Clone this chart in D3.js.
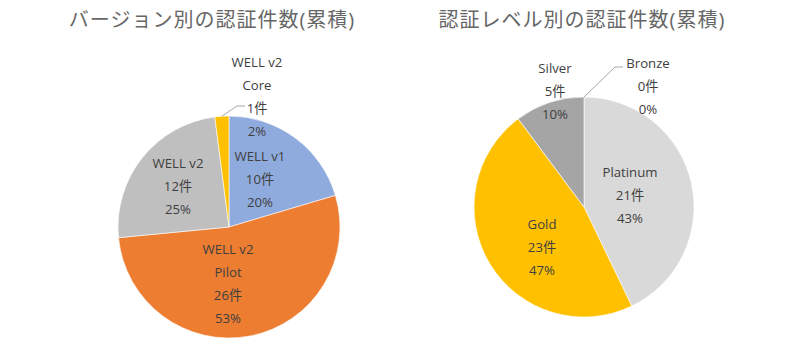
<!DOCTYPE html>
<html><head><meta charset="utf-8">
<script src="https://cdn.jsdelivr.net/npm/d3@7"></script>
<style>
html,body{margin:0;padding:0;background:#fff;}
svg{display:block;}
text{font-family:"Open Sans","Noto Sans CJK JP",sans-serif;}
</style></head>
<body>
<svg id="chart" width="800" height="356"></svg>
<script>
// ---- data ----
const titleLeft = "バージョン別の認証件数(累積)";
const titleRight = "認証レベル別の認証件数(累積)";

const versionNames = ["WELL v1", "WELL v2\nPilot", "WELL v2", "WELL v2\nCore"];
const versionCounts = [10, 26, 12, 1];
const versionPctLabels = ["20%", "53%", "25%", "2%"];
const versionColors = ["#8FAADC", "#ED7D31", "#BFBFBF", "#FFC000"];

const levelNames = ["Platinum", "Gold", "Silver", "Bronze"];
const levelCounts = [21, 23, 5, 0];
const levelPctLabels = ["43%", "47%", "10%", "0%"];
const levelColors = ["#D9D9D9", "#FFC000", "#A5A5A5", "#8C6239"];

// ---- layout ----
const svg = d3.select("#chart");
const textColor = "#404040";
const lineH = 23;

function drawPie(cfg) {
  const g = svg.append("g").attr("transform", `translate(${cfg.cx},${cfg.cy})`);
  const data = cfg.counts.map((v, i) => ({name: cfg.names[i], value: v, pct: cfg.pcts[i], color: cfg.colors[i], i}));
  const pie = d3.pie().sort(null).value(d => d.value);
  const arcs = pie(data);
  const arc = d3.arc().innerRadius(0).outerRadius(cfg.r);
  g.selectAll("path.slice").data(arcs.filter(a => a.data.value > 0)).join("path")
    .attr("class", "slice")
    .attr("d", arc)
    .attr("fill", a => a.data.color)
    .attr("stroke", "#fff").attr("stroke-width", 0.6);

  arcs.forEach(a => {
    const lay = cfg.labels[a.index];
    const mid = (a.startAngle + a.endAngle) / 2;
    const x = lay.abs[0], y = lay.abs[1];
    const lines = a.data.name.split("\n").concat([a.data.value + "件", a.data.pct]);
    const top = y - (lines.length - 1) * lineH / 2;
    const t = g.append("text").attr("text-anchor", "middle").attr("fill", textColor)
      .attr("font-size", 13.2);
    lines.forEach((ln, k) => {
      t.append("tspan").attr("x", x).attr("y", top + k * lineH).attr("dy", "0.35em").text(ln);
    });
    if (lay.leader) {
      const p0 = [Math.sin(mid) * cfg.r, -Math.cos(mid) * cfg.r];
      g.append("polyline")
        .attr("points", [p0, lay.leader[0], lay.leader[1]].map(p => p.join(",")).join(" "))
        .attr("fill", "none").attr("stroke", "#A6A6A6").attr("stroke-width", 1);
    }
  });
}

// titles
svg.append("text").attr("x", 212).attr("y", 27).attr("text-anchor", "middle")
  .attr("font-size", 20).attr("letter-spacing", 1).attr("fill", "#666666").text(titleLeft);
svg.append("text").attr("x", 582).attr("y", 27).attr("text-anchor", "middle")
  .attr("font-size", 20).attr("letter-spacing", 1).attr("fill", "#666666").text(titleRight);

drawPie({
  cx: 229, cy: 227, r: 111,
  names: versionNames, counts: versionCounts, pcts: versionPctLabels, colors: versionColors,
  labels: [
    {abs: [31, -48]},
    {abs: [-1, 57]},
    {abs: [-51, -41]},
    {abs: [28, -130], leader: [[8, -121], [16, -121]]}
  ]
});

drawPie({
  cx: 584, cy: 207, r: 110,
  names: levelNames, counts: levelCounts, pcts: levelPctLabels, colors: levelColors,
  labels: [
    {abs: [46, -12]},
    {abs: [-42, 40]},
    {abs: [-29, -116]},
    {abs: [64, -121], leader: [[31, -140], [39, -140]]}
  ]
});
</script>
</body></html>
